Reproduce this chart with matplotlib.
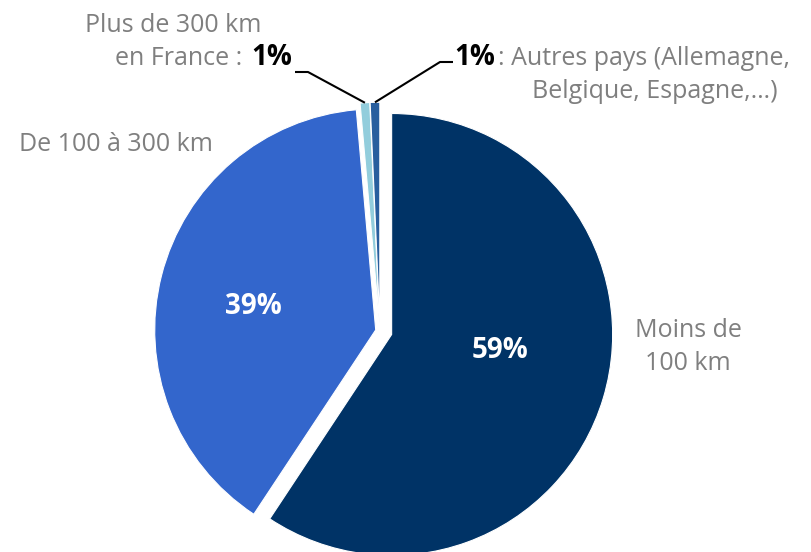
import numpy as np
import matplotlib.pyplot as plt

plt.rcParams['font.family'] = ['Open Sans', 'DejaVu Sans']

# data (clockwise from 12 o'clock)
categories = ['Moins de 100 km', 'De 100 à 300 km', 'Plus de 300 km en France', 'Autres pays']
values = [59.3, 39.3, 0.7, 0.7]
colors = ['#003366', '#3366CC', '#92CDDC', '#285E9E']
pct_labels = [f"{round(v)}%" for v in values]

W, H = 812, 552
R = 221
explode = [0.055 * R, 0.02 * R, 0.035 * R, 0.035 * R]  # pie explode is in data units

fig = plt.figure(figsize=(W / 100, H / 100), dpi=100)
ax = fig.add_axes([0, 0, 1, 1])

def px(x, y):
    # pixel coords (origin top-left) -> data coords
    return x, H - y

wedges, _ = ax.pie(values, colors=colors, explode=explode, startangle=90,
                   counterclock=False, center=px(380, 331), radius=R,
                   wedgeprops=dict(edgecolor='white', linewidth=0.8))
ax.set_xlim(0, W)
ax.set_ylim(0, H)
ax.axis('off')

grey = '#7F7F7F'
fs = 18
fsb = 20

def wedge_top(w):
    a = np.deg2rad((w.theta1 + w.theta2) / 2)
    return w.center[0] + w.r * np.cos(a), w.center[1] + w.r * np.sin(a)

# inside labels
ax.text(*px(253, 307), pct_labels[1], color='white', fontsize=fsb, fontweight='bold',
        ha='center', va='center')
ax.text(*px(500, 351), pct_labels[0], color='white', fontsize=fsb, fontweight='bold',
        ha='center', va='center')

# outside labels
ax.text(*px(213, 145), 'De 100 à 300 km', color=grey, fontsize=fs, ha='right', va='center')
ax.text(*px(688, 347), 'Moins de\n100 km', color=grey, fontsize=fs, ha='center',
        va='center', linespacing=1.4)

ax.text(*px(173, 32), 'Plus de 300 km', color=grey, fontsize=fs, ha='center', va='baseline')
ax.text(*px(242, 65), 'en France :', color=grey, fontsize=fs, ha='right', va='baseline')
ax.text(*px(251, 65), pct_labels[2], color='black', fontsize=fsb, fontweight='bold',
        ha='left', va='baseline')

ax.text(*px(454, 65), pct_labels[3], color='black', fontsize=fsb, fontweight='bold',
        ha='left', va='baseline')
ax.text(*px(498, 65), ': Autres pays (Allemagne,', color=grey, fontsize=fs,
        ha='left', va='baseline')
ax.text(*px(655, 98), 'Belgique, Espagne,…)', color=grey, fontsize=fs,
        ha='center', va='baseline')

# leader lines
x0, y0 = wedge_top(wedges[2])
ex, ey = px(308, 72)
sx, sy = px(295, 72)
ax.plot([sx, ex, x0], [sy, ey, y0], color='black', lw=1.5, solid_capstyle='butt')

x1, y1 = wedge_top(wedges[3])
ex, ey = px(440, 62)
sx, sy = px(453, 62)
ax.plot([sx, ex, x1], [sy, ey, y1], color='black', lw=1.5, solid_capstyle='butt')

fig.savefig('out.png', dpi=100)
